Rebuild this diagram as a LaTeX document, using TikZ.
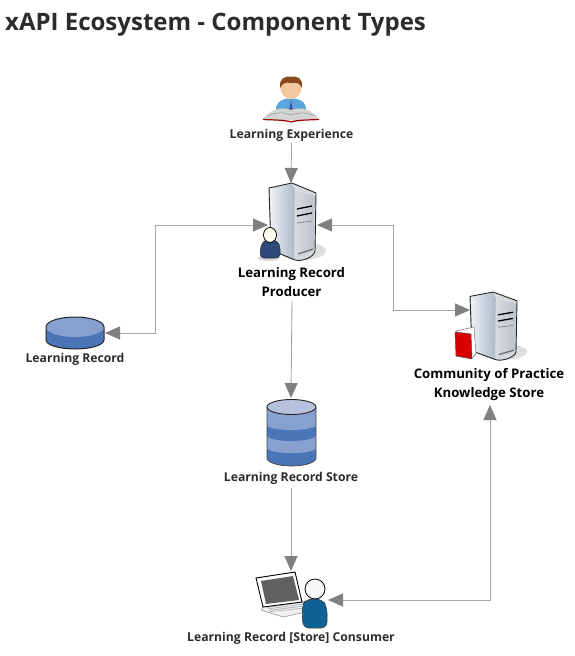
\documentclass[tikz,border=0pt]{standalone}
\usepackage{fontspec}
\setmainfont{Open Sans}
\usetikzlibrary{arrows.meta,calc}
\definecolor{linec}{HTML}{A6A6A6}
\definecolor{tipc}{HTML}{808080}
\definecolor{txt}{HTML}{2B2B2B}
\definecolor{dbdark}{HTML}{4A76B8}
\definecolor{dbmid}{HTML}{86A0CF}
\definecolor{dbtop}{HTML}{B5C1DD}
\definecolor{srvA}{HTML}{EEF2F5}
\definecolor{srvB}{HTML}{A9B8C8}
\definecolor{panA}{HTML}{D6DBE0}
\definecolor{panB}{HTML}{BCC3CA}
\definecolor{navy}{HTML}{2E4A7D}
\definecolor{teal}{HTML}{0F6296}
\definecolor{shirt}{HTML}{5AA5DC}
\definecolor{skin}{HTML}{F5C9A0}
\definecolor{hair}{HTML}{8B4A1E}
\tikzset{
  link/.style={draw=linec,line width=.9pt,arrows={-Triangle[length=15pt,width=13pt,color=tipc]}},
  biglink/.style={draw=linec,line width=.9pt,arrows={Triangle[length=15pt,width=13pt,color=tipc]-Triangle[length=15pt,width=13pt,color=tipc]}},
  lbl/.style={font=\fontsize{12.2}{18.5}\selectfont\bfseries,text=txt,align=center,inner sep=0pt},
  lblb/.style={font=\fontsize{13.2}{19.5}\selectfont\bfseries,text=black,align=center,inner sep=0pt},
  outl/.style={draw=black!85,line width=.9pt,line join=round},
}
\newcommand{\serverat}[3]{%
\begin{scope}[shift={(#1,#2)},yscale=#3]
  \fill[black!13] (10,68) ellipse (24 and 9);
  \path[fill=panA] (-23,5) -- (0,0) -- (24,10) -- (23,68) .. controls (22,74) and (10,79) .. (3,77) -- (-21,67) -- cycle;
  \path[left color=srvA,right color=srvB] (-22,5.5) -- (0,1) -- (3,8) -- (2,76) -- (-20,67) -- cycle;
  \path[left color=panA,right color=panB,rounded corners=2pt] (2.5,9) -- (23,12) -- (22,67) -- (3,76) -- cycle;
  \draw[outl] (-23,5) -- (0,0) -- (24,10) -- (23,68) .. controls (22,74) and (10,79) .. (3,77) -- (-21,67) -- cycle;
  \draw[black,line width=1.3pt] (5,26) -- (20,23) (5,33) -- (20,30);
  \draw[black!45,line width=.8pt] (5,40) -- (20,38);
  \draw[black!60,line width=1.1pt] (6,71) -- (21,66);
\end{scope}}
\newcommand{\dbband}[4]{% colour, bottom edge y, radius y, centre x / half width fixed by caller
  \fill[#1] (#4-24.5,407) rectangle (#4+24.5,#2);
  \fill[#1] (#4,#2) ellipse (24.5 and #3);
}
\begin{document}
\begin{tikzpicture}[x=1pt,y=-1pt]
\useasboundingbox (0,0) rectangle (574,656);
\fill[white] (0,0) rectangle (574,656);
% title
\node[anchor=west,inner sep=0pt,text=txt,font=\fontsize{24}{28}\selectfont\bfseries] (title) at (5,25) {xAPI Ecosystem - Component Types};
% labels
\node[lbl] (lblLE) at (291.5,135) {Learning Experience};
\node[lblb] (lblP) at (291.5,282) {Learning Record\\Producer};
\node[lbl] (lblLR) at (75,359) {Learning Record};
\node[lblb] (lblC) at (489,384.5) {Community of Practice\\Knowledge Store};
\node[lbl] (lblS) at (291,478) {Learning Record Store};
\node[lbl] (lblU) at (291,638) {Learning Record [Store] Consumer};
% learning experience icon
\path[fill=shirt,rounded corners=5pt] (276,116) -- (276,104) -- (284,98.5) -- (298,98.5) -- (306,104) -- (306,116) -- cycle;
\fill[blue!50!black!70] (291,100) -- (289,111) -- (293,111) -- cycle;
\fill[black!17] (263,119) .. controls (270,110) and (280,106) .. (291,110) .. controls (302,106) and (312,110) .. (319,119) -- (291,120.5) -- cycle;
\draw[black!40,line width=.5pt] (268,116) .. controls (275,112) and (283,112) .. (291,115) .. controls (299,112) and (307,112) .. (314,116);
\draw[red!60!black,line width=1.2pt] (263,119.5) .. controls (275,120) and (285,120) .. (291,122) .. controls (297,120) and (307,120) .. (319,119.5);
\fill[skin] (291,88) ellipse (10.5 and 11);
\fill[hair] (280.5,88) .. controls (278,78) and (286,76) .. (291,76.5) .. controls (297,76) and (304,78) .. (301.5,88) .. controls (300,83) and (297,82) .. (291,83) .. controls (286,82) and (282,83) .. (280.5,88) -- cycle;
% servers
\serverat{292}{183}{1}
\fill[black!15] (269,258) ellipse (11 and 3);
\path[draw=black!80,line width=.6pt,fill=navy,rounded corners=4pt] (260,258) -- (261,244) -- (266,240) -- (275,240) -- (280,245) -- (280,258) -- cycle;
\path[draw=black,line width=.8pt,fill=yellow!6] (270,235) ellipse (6.5 and 7.5);
\serverat{493}{292}{.88}
\path[fill=white,draw=black!55,line width=.5pt] (456,331) -- (474,327) -- (476,354) -- (472,358) -- cycle;
\path[fill=red!85!black,draw=black!70,line width=.5pt] (455,332) -- (471,334) -- (472,359) -- (456,356) -- cycle;
% store: stacked bands, lowest first
\dbband{dbdark}{458}{8}{291.5}
\dbband{dbmid}{448}{5}{291.5}
\dbband{dbdark}{435}{6}{291.5}
\dbband{dbmid}{425}{5}{291.5}
\draw[draw=black!75,line width=.7pt] (267,407) -- (267,458) arc[start angle=180,end angle=0,x radius=24.5,y radius=8] -- (316,407);
\draw[outl,fill=dbtop] (291.5,407) ellipse (24.5 and 7.5);
% learning record
\fill[dbdark] (46,327) rectangle (104,340);
\fill[dbdark] (75,340) ellipse (29 and 9);
\fill[dbmid] (75,327) ellipse (29 and 10);
\draw[draw=black!85,line width=1pt] (46,327) arc[start angle=180,end angle=360,x radius=29,y radius=10];
\draw[draw=black!85,line width=1pt] (46,327) -- (46,340) arc[start angle=180,end angle=0,x radius=29,y radius=9] -- (104,327);
% consumer
\path[fill=black!6,draw=black!40,line width=.6pt] (263,607) -- (303,601) -- (306,612) -- (283,617) -- (261,610) -- cycle;
\foreach \i in {0,1,2,3}{\draw[black!30,line width=.7pt] (267+\i*1,607.5+\i*1.4) -- (303+\i*.6,602+\i*2);}
\path[draw=black,line width=.9pt,fill=white] (256,578) -- (295,572) -- (302,602) -- (263,607) -- cycle;
\fill[black!62] (261,581) -- (293,576) -- (299,600) -- (266,604) -- cycle;
\path[fill=teal,draw=black!75,line width=.6pt,rounded corners=6pt] (303,628) -- (302,606) -- (306,599) -- (322,599) -- (327,607) -- (327,628) -- cycle;
\path[draw=black,line width=.8pt,fill=black!3] (315,589) ellipse (10 and 10);
% ports
\coordinate (pT) at (291,183);
\coordinate (pL) at (268,225);
\coordinate (pR) at (317,225);
\coordinate (lrE) at (105,333);
\coordinate (cW) at (470,310);
\coordinate (sT) at (291,398);
\coordinate (uT) at (291,571);
\coordinate (uE) at (328,600);
\coordinate (cS) at (490,405);
\coordinate (bendA) at (155,225);
\coordinate (bendB) at (155,333);
\coordinate (bendC) at (393,225);
\coordinate (bendD) at (393,310);
\coordinate (bendE) at (490,600);
% connectors
\draw[link] (lblLE.south |- 0,143) -- (pT);
\draw[link] (292,301) -- (sT);
\draw[link] (291,488) -- (uT);
\draw[biglink] (pL) -- (bendA) -- (bendB) -- (lrE);
\draw[biglink] (pR) -- (bendC) -- (bendD) -- (cW);
\draw[biglink] (cS) -- (bendE) -- (uE);
\end{tikzpicture}
\end{document}
